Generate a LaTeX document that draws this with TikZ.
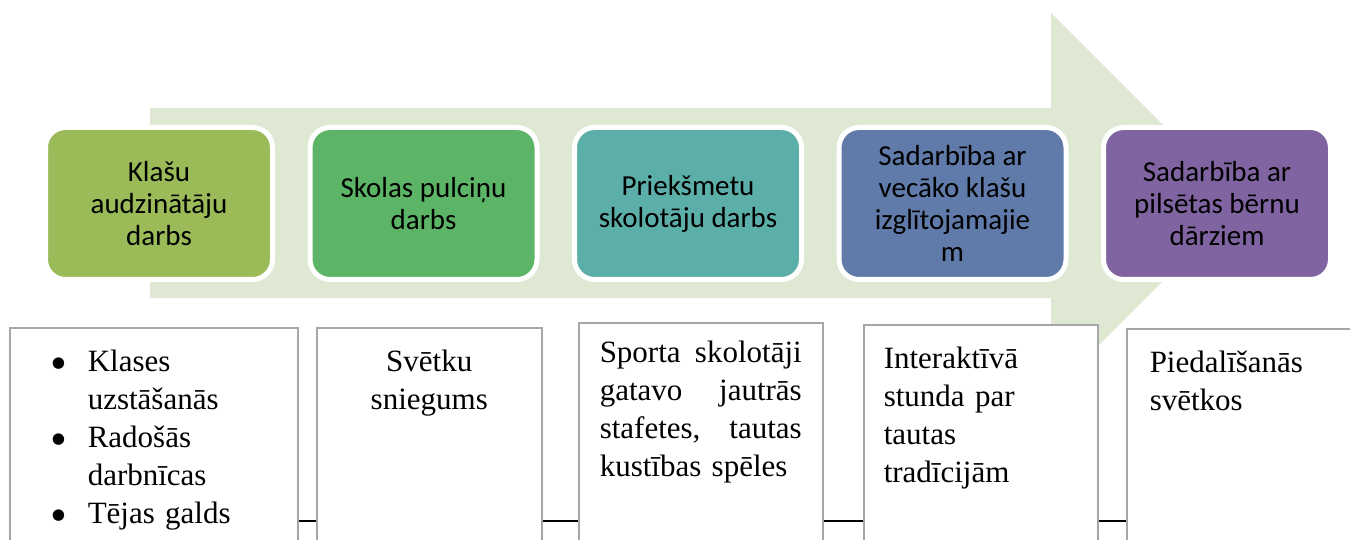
\documentclass[tikz,border=0pt]{standalone}
\usepackage{fontspec}
\newfontfamily\stagefont{Carlito}
\newfontfamily\notefont{Liberation Serif}
\usetikzlibrary{positioning}
\definecolor{arrowbg}{RGB}{222,232,210}
\definecolor{stageA}{RGB}{155,187,89}
\definecolor{stageB}{RGB}{92,181,102}
\definecolor{stageC}{RGB}{92,175,168}
\definecolor{stageD}{RGB}{96,122,170}
\definecolor{stageE}{RGB}{128,100,162}
\definecolor{notegray}{RGB}{166,166,166}
\newcommand{\notebullet}{\makebox[37pt][l]{\raisebox{-8pt}{\scalebox{1.55}{\textbullet}}}}

\begin{document}
\begin{tikzpicture}[
    x=1pt, y=-1pt,
    stage/.style={rounded corners=20pt, draw=white, line width=5pt, minimum width=227pt, minimum height=152pt, inner sep=0pt, align=center, font=\stagefont\fontsize{29}{32}\selectfont},
    note/.style={draw=notegray, fill=white, line width=1.5pt, anchor=north west, inner ysep=0pt, text height=44pt, text depth=220pt, align=left, font=\notefont\fontsize{31}{38}\selectfont},
    link/.style={line width=1.5pt}
  ]
    \useasboundingbox (0,0) rectangle (1350,540);
    \clip (0,0) rectangle (1350,540);

    % background arrow
    \fill[arrowbg] (150,108) -- (1051,108) -- (1051,13) -- (1241,203) -- (1051,393) -- (1051,298) -- (150,298) -- cycle;

    \node[stage, fill=stageA] (s1) at (159,203.5) {Klašu\\audzinātāju\\darbs};
    \node[stage, fill=stageB, right=32.5pt of s1] (s2) {Skolas pulciņu\\darbs};
    \node[stage, fill=stageC, right=32.5pt of s2] (s3) {Priekšmetu\\skolotāju darbs};
    \node[stage, fill=stageD, right=32.5pt of s3] (s4) {Sadarbība ar\\vecāko klašu\\izglītojamajie\\m};
    \node[stage, fill=stageE, right=32.5pt of s4] (s5) {Sadarbība ar\\pilsētas bērnu\\dārziem};

    \node[note, inner xsep=41pt, text width=206pt] (n1) at (9,327)
      {\notebullet Klases\\\hspace*{37pt}uzstāšanās\\\notebullet Radošās\\\hspace*{37pt}darbnīcas\\\notebullet Tējas galds};
    \node[note, inner xsep=10pt, text width=205pt, align=center] (n2) at (316,327) {Svētku\\sniegums};
    \node[note, inner xsep=21pt, text width=202pt, text height=40pt] (n3) at (578,322)
      {\makebox[202pt][s]{Sporta\hfill skolotāji}\\\makebox[202pt][s]{gatavo\hfill jautrās}\\\makebox[202pt][s]{stafetes,\hfill tautas}\\kustības spēles};
    \node[note, inner xsep=20pt, text width=194pt] (n4) at (863,324) {Interaktīvā\\stunda par\\tautas\\tradīcijām};
    \node[note, inner xsep=23pt, text width=188pt] (n5) at (1126,328) {Piedalīšanās\\svētkos};

    \coordinate (rail) at (0,521);
    \draw[link] (n1.east |- rail) -- (n2.west |- rail);
    \draw[link] (n2.east |- rail) -- (n3.west |- rail);
    \draw[link] (n3.east |- rail) -- (n4.west |- rail);
    \draw[link] (n4.east |- rail) -- (n5.west |- rail);
\end{tikzpicture}
\end{document}
